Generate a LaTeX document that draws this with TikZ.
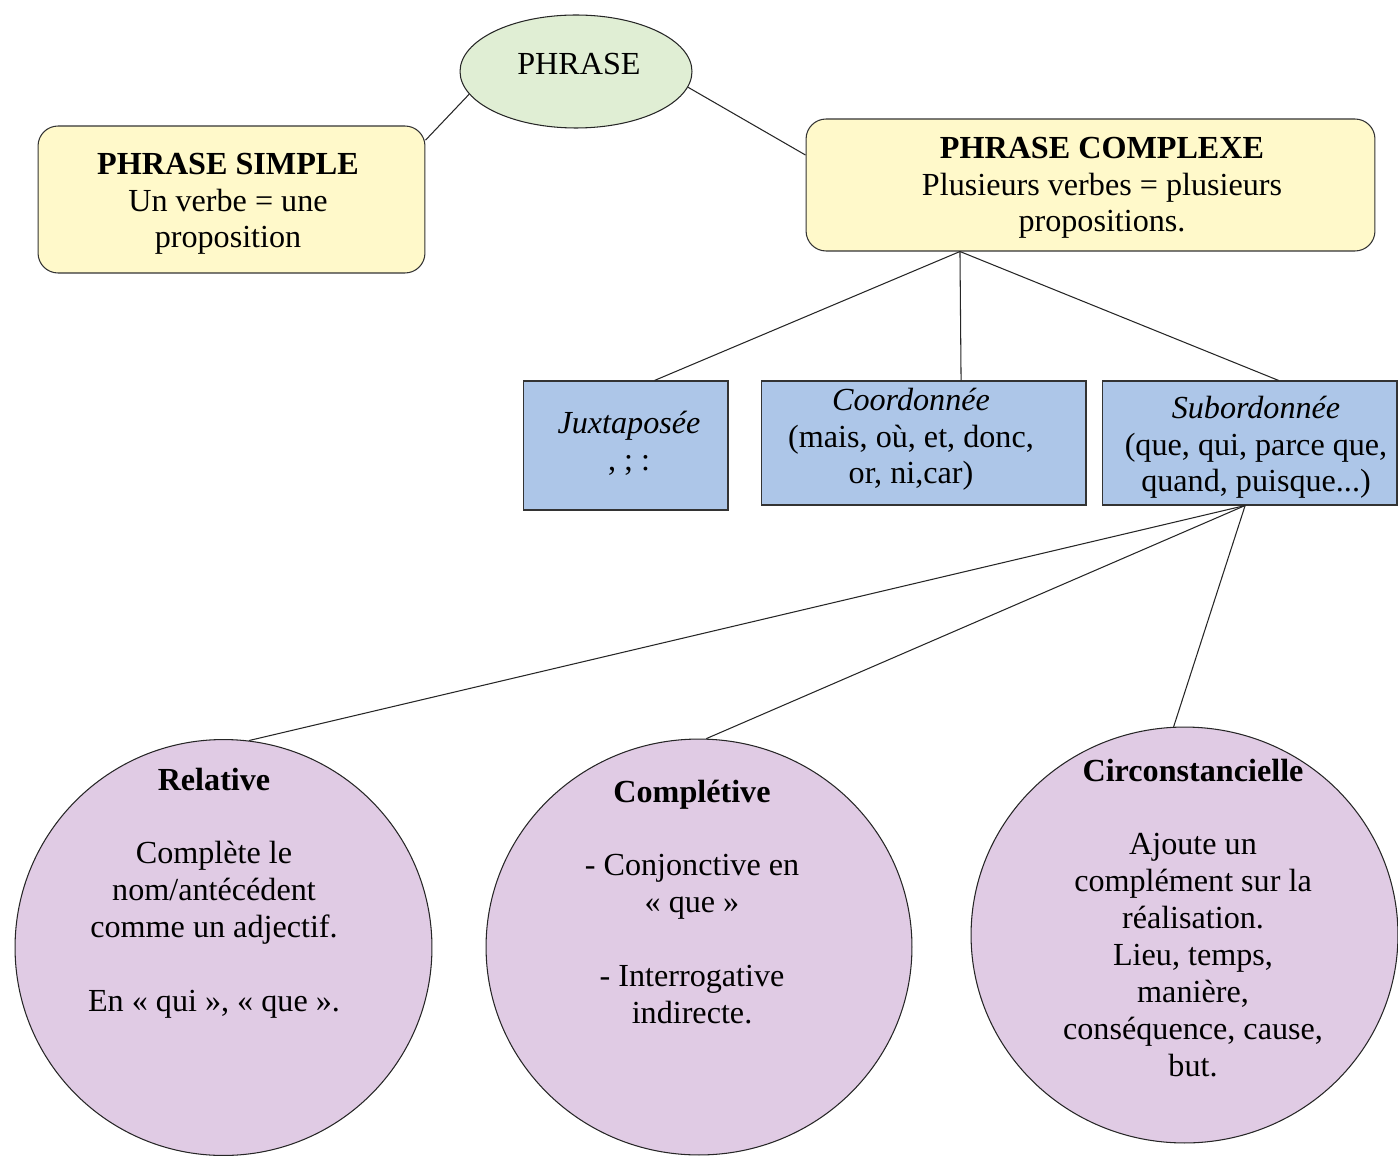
\documentclass[tikz,border=0pt]{standalone}
\usepackage{fontspec}
\setmainfont{Liberation Serif}
\usepackage{xcolor}
\usetikzlibrary{shapes.geometric}

\definecolor{phrasegreen}{HTML}{E0EED4}
\definecolor{boxyellow}{HTML}{FFF9CA}
\definecolor{propblue}{HTML}{ADC6E8}
\definecolor{subpurple}{HTML}{E0CBE4}

\tikzset{
  txt/.style={font=\fontsize{18.3}{21}\selectfont, align=center, inner sep=0pt, anchor=north},
  yellowbox/.style={draw=black!80, line width=0.6pt, fill=boxyellow, rounded corners=0.4cm, inner sep=0pt},
  bluebox/.style={draw=black!80, line width=0.6pt, fill=propblue, inner sep=0pt},
  purpleround/.style={ellipse, draw=black!85, line width=0.6pt, fill=subpurple, inner sep=0pt},
  link/.style={draw=black!85, line width=0.6pt}
}

\begin{document}
\begin{tikzpicture}[x=0.02cm, y=-0.02cm]
\useasboundingbox (0,0) rectangle (1398,1155);

% shapes
{
\node[ellipse, draw=black!85, line width=0.6pt, fill=phrasegreen, inner sep=0pt,
      minimum width=4.64cm, minimum height=2.26cm] (phrase) at (576,71.5) {};

\node[yellowbox, minimum width=7.74cm, minimum height=2.94cm] (simple) at (231.5,199.5) {};
\node[yellowbox, minimum width=11.38cm, minimum height=2.64cm] (complexe) at (1090.5,185) {};

\node[bluebox, minimum width=4.1cm, minimum height=2.58cm] (juxt) at (625.5,445.5) {};
\node[bluebox, minimum width=6.5cm, minimum height=2.48cm] (coord) at (923.5,443) {};
\node[bluebox, minimum width=5.9cm, minimum height=2.48cm] (subord) at (1249.5,443) {};

\node[purpleround, minimum width=8.34cm, minimum height=8.32cm] (relative) at (223.5,947.5) {};
\node[purpleround, minimum width=8.52cm, minimum height=8.32cm] (completive) at (699,947) {};
\node[purpleround, minimum width=8.54cm, minimum height=8.32cm] (circ) at (1184.5,935) {};
}

% lines
{
\draw[link] (simple.17) -- (phrase.192);
\draw[link] (phrase.-8) -- (complexe.174);

\draw[link] (complexe.207) -- (juxt.66);
\draw[link] (complexe.207) -- (coord.59);
\draw[link] (complexe.207) -- (subord.65);

\draw[link] (subord.266) -- (relative.83);
\draw[link] (subord.266) -- (completive.88);
\draw[link] (subord.266) -- (circ.93);
}

% labellings
{
\node[txt] (phraseT) at (579,48) {\strut PHRASE};

\node[txt] (simpleT) at (228,148)
{\strut\textbf{PHRASE SIMPLE}\\Un verbe = une\\proposition};
\node[txt] (complexeT) at (1102,132)
{\strut\textbf{PHRASE COMPLEXE}\\Plusieurs verbes = plusieurs\\propositions.};

\node[txt] (juxtT) at (629,407) {\strut\textit{Juxtaposée}\\, ; :};
\node[txt] (coordT) at (911,384)
{\strut\textit{Coordonnée}\\(mais, où, et, donc,\\or, ni,car)};
\node[txt] (subordT) at (1256,392)
{\strut\textit{Subordonnée}\\(que, qui, parce que,\\quand, puisque...)};

\node[txt] (relativeT) at (214,764)
{\strut\textbf{Relative}\\[21pt]Complète le\\nom/antécédent\\comme un adjectif.\\[21pt]En « qui », « que ».};
\node[txt] (completiveT) at (692,776)
{\strut\textbf{Complétive}\\[21pt]- Conjonctive en\\« que »\\[21pt]- Interrogative\\indirecte.};
\node[txt] (circT) at (1193,755)
{\strut\textbf{Circonstancielle}\\[21pt]Ajoute un\\complément sur la\\réalisation.\\Lieu, temps,\\manière,\\conséquence, cause,\\but.};
}

\end{tikzpicture}
\end{document}
